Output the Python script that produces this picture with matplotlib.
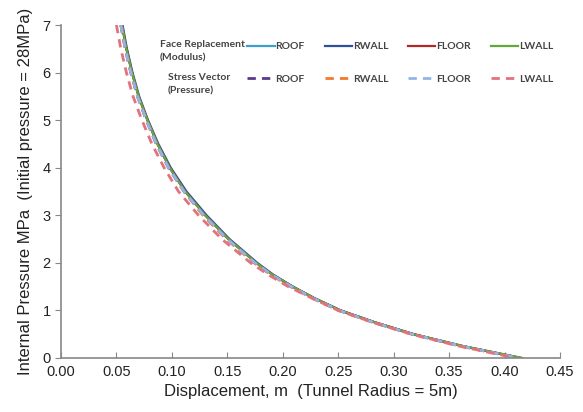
import matplotlib
matplotlib.use('Agg')
import matplotlib.pyplot as plt

plt.rcParams['font.family'] = ['Liberation Sans', 'DejaVu Sans']

# internal pressure levels (MPa)
pressure = [7.0, 6.5, 6.0, 5.5, 5.0, 4.5, 4.0, 3.5, 3.0, 2.5, 2.0,
            1.75, 1.5, 1.25, 1.0, 0.75, 0.5, 0.25, 0.0]

# face replacement (modulus) - displacement in m
fr_roof = [0.055, 0.059, 0.064, 0.070, 0.078, 0.087, 0.098, 0.112, 0.130, 0.151, 0.176,
           0.191, 0.209, 0.229, 0.252, 0.283, 0.318, 0.362, 0.415]
fr_rwall = [0.0555, 0.0595, 0.0645, 0.0705, 0.0785, 0.0878, 0.0990, 0.1132, 0.1313, 0.1520, 0.1770,
            0.1915, 0.2090, 0.2292, 0.2522, 0.2830, 0.3180, 0.3620, 0.4140]
fr_floor = [0.055, 0.059, 0.064, 0.070, 0.078, 0.087, 0.098, 0.112, 0.130, 0.151, 0.176,
            0.191, 0.209, 0.229, 0.252, 0.283, 0.318, 0.362, 0.415]
fr_lwall = [0.055, 0.059, 0.064, 0.070, 0.078, 0.087, 0.098, 0.112, 0.130, 0.151, 0.176,
            0.191, 0.209, 0.229, 0.252, 0.283, 0.318, 0.363, 0.416]

# stress vector (pressure)
sv_roof = [0.054, 0.058, 0.063, 0.069, 0.077, 0.086, 0.097, 0.111, 0.129, 0.150, 0.175,
           0.190, 0.208, 0.228, 0.251, 0.282, 0.317, 0.361, 0.413]
sv_rwall = [0.054, 0.058, 0.063, 0.069, 0.077, 0.086, 0.097, 0.111, 0.128, 0.149, 0.174,
            0.189, 0.207, 0.227, 0.250, 0.281, 0.316, 0.360, 0.412]
sv_floor = [0.054, 0.058, 0.063, 0.069, 0.077, 0.086, 0.097, 0.111, 0.129, 0.150, 0.175,
            0.190, 0.208, 0.228, 0.251, 0.282, 0.317, 0.361, 0.413]
sv_lwall = [0.050, 0.054, 0.059, 0.065, 0.073, 0.082, 0.093, 0.106, 0.124, 0.145, 0.171,
            0.187, 0.205, 0.227, 0.250, 0.281, 0.316, 0.359, 0.410]

names = ['ROOF', 'RWALL', 'FLOOR', 'LWALL']
fr_colors = ['#3d9fcc', '#2d4f9e', '#b0282a', '#63a83a']
sv_colors = ['#5a3a8e', '#f07b2c', '#8fb6e6', '#e2727c']

xticks = [0.00, 0.05, 0.10, 0.15, 0.20, 0.25, 0.30, 0.35, 0.40, 0.45]
yticks = [0, 1, 2, 3, 4, 5, 6, 7]

fig = plt.figure(figsize=(5.83, 4.12), dpi=100)
ax = fig.add_axes([0.1046, 0.1311, 0.8559, 0.8082])

fr_lines = []
for xs, c, n in zip([fr_roof, fr_rwall, fr_floor, fr_lwall], fr_colors, names):
    ln, = ax.plot(xs, pressure, color=c, lw=1.6, label=n)
    fr_lines.append(ln)
sv_lines = []
for xs, c, n in zip([sv_roof, sv_rwall, sv_floor, sv_lwall], sv_colors, names):
    ln, = ax.plot(xs, pressure, color=c, lw=2.0, ls=(0, (3, 2.2)), label=n)
    sv_lines.append(ln)

ax.set_xlim(0, 0.45)
ax.set_ylim(0, 7)
ax.set_xticks(xticks)
ax.set_xticklabels(['%.2f' % v for v in xticks])
ax.set_yticks(yticks)
for s in ['top', 'right']:
    ax.spines[s].set_visible(False)
for s in ['left', 'bottom']:
    ax.spines[s].set_color('#888888')
    ax.spines[s].set_linewidth(1.2)
ax.tick_params(axis='both', colors='#888888', labelcolor='#222222', labelsize=10.5, length=4)
ax.tick_params(axis='x', direction='in', pad=5)

ax.set_xlabel('Displacement, m  (Tunnel Radius = 5m)', fontsize=12, color='#222222', labelpad=4)
ax.set_ylabel('Internal Pressure MPa  (Initial pressure = 28MPa)', fontsize=12, color='#222222', labelpad=7)

leg_font = {'family': 'Lato', 'weight': 'bold', 'size': 7.5}
leg_kw = dict(ncol=4, frameon=False, handlelength=2.6, handletextpad=0.1,
              columnspacing=1.9, labelcolor='#444444', prop=leg_font)
leg1 = ax.legend(handles=fr_lines, loc='center left', bbox_to_anchor=(0.355, 0.935), **leg_kw)
ax.add_artist(leg1)
ax.legend(handles=sv_lines, loc='center left', bbox_to_anchor=(0.355, 0.838), **leg_kw)

ax.text(0.198, 0.921, 'Face Replacement\n(Modulus)', transform=ax.transAxes,
        fontdict=leg_font, color='#444444', va='center', linespacing=1.6)
ax.text(0.214, 0.823, 'Stress Vector\n(Pressure)', transform=ax.transAxes,
        fontdict=leg_font, color='#444444', va='center', linespacing=1.6)

fig.savefig('out.png', dpi=100)
plt.close(fig)
